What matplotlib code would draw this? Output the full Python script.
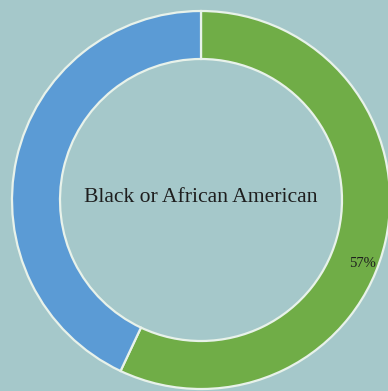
import numpy as np
import matplotlib.pyplot as plt

# Share of respondents
categories = ["Black or African American", "Other"]
values = [57, 43]
colors = ["#70ad47", "#5b9bd5"]
title_text = "Black or African American"
bg = "#a5c8ca"

W, H = 388, 391
fig = plt.figure(figsize=(W / 100, H / 100), dpi=100, facecolor=bg)
ax = fig.add_axes([0, 0, 1, 1])
ax.set_facecolor(bg)

cx, cy = 201, H - 200
radius = 189
ring = 48

wedges, _ = ax.pie(
    values,
    colors=colors,
    startangle=90,
    counterclock=False,
    center=(cx, cy),
    radius=radius,
    wedgeprops=dict(width=ring, edgecolor="#e8f2ea", linewidth=1.6),
)

ax.set_xlim(0, W)
ax.set_ylim(0, H)
ax.set_aspect("auto")
ax.axis("off")

ax.text(cx, H - 198, title_text, ha="center", va="center",
        fontsize=15.6, family="Liberation Serif", color="#1e1e1e")

# percentage label on the green segment
ang = np.deg2rad(-21.5)
r_lab = radius - ring / 2 + 9
ax.text(cx + r_lab * np.cos(ang), cy + r_lab * np.sin(ang), f"{values[0]}%",
        ha="center", va="center", fontsize=10.5, family="Liberation Serif",
        color="#1e1e1e")

fig.savefig("out.png", dpi=100, facecolor=bg)
